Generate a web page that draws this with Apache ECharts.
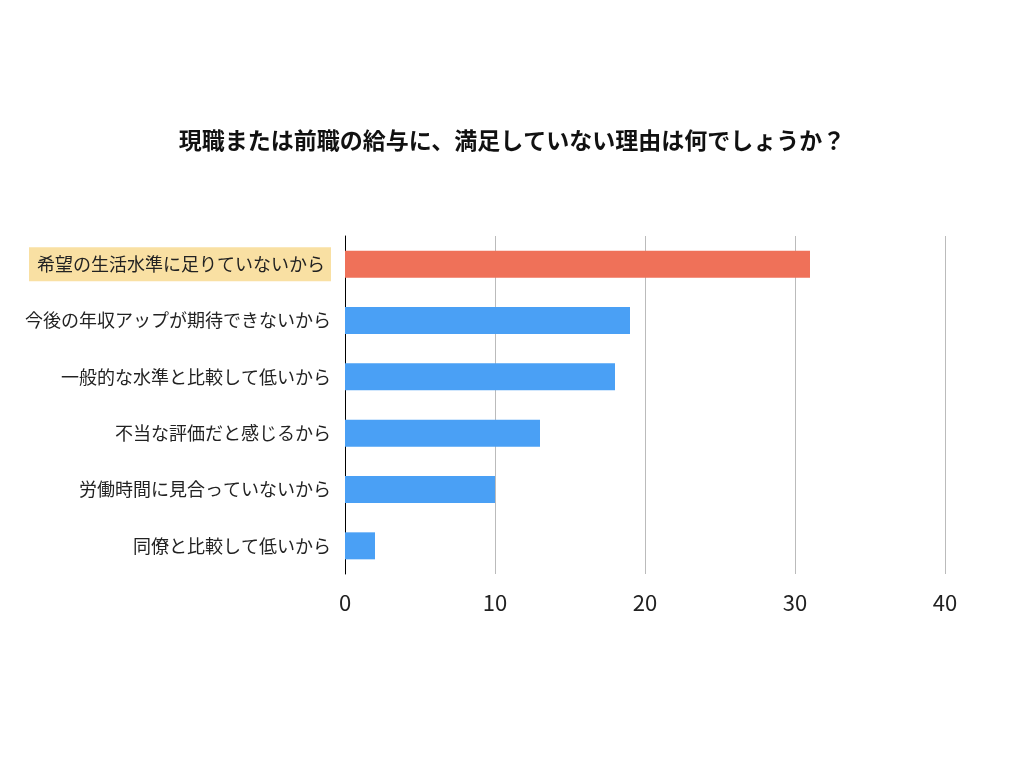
<!DOCTYPE html>
<html lang="ja" style="height: 100%">
<head>
  <meta charset="utf-8">
</head>
<body style="height: 100%; margin: 0; background-color:#ffffff;">
  <div id="container" style="width:1024px; height:768px"></div>

<script src="https://cdn.jsdelivr.net/npm/echarts@6/dist/echarts.min.js"></script>

<script>
  var categories = [
    '希望の生活水準に足りていないから',
    '今後の年収アップが期待できないから',
    '一般的な水準と比較して低いから',
    '不当な評価だと感じるから',
    '労働時間に見合っていないから',
    '同僚と比較して低いから'
  ];
  var values = [31, 19, 18, 13, 10, 2];
  var xTicks = [0, 10, 20, 30, 40];

  var myChart = echarts.init(document.getElementById('container'));
  var font = '"Noto Sans CJK JP", sans-serif';

  var option = {
    animation: false,
    title: {
      text: '現職または前職の給与に、満足していない理由は何でしょうか？',
      left: 'center',
      top: 124,
      textStyle: { fontSize: 23, fontWeight: 'bold', color: '#111', fontFamily: font }
    },
    grid: { left: 345, right: 79, top: 236, bottom: 194 },
    xAxis: {
      type: 'value',
      min: xTicks[0],
      max: xTicks[xTicks.length - 1],
      interval: 10,
      axisLine: { show: false },
      axisTick: { show: false },
      axisLabel: { fontSize: 22, color: '#222', margin: 18, fontFamily: font },
      splitLine: { lineStyle: { color: '#bbbbbb' } }
    },
    yAxis: {
      type: 'category',
      inverse: true,
      data: categories,
      axisLine: { lineStyle: { color: '#000' } },
      axisTick: { show: false },
      axisLabel: {
        fontSize: 18,
        color: '#222',
        margin: 14,
        fontFamily: font,
        formatter: function (v, i) { return i === 0 ? '{hl|' + v + '}' : v; },
        rich: {
          hl: { backgroundColor: '#f9e0a3', padding: [8, 6, 8, 8], fontSize: 18, color: '#222', fontFamily: font }
        }
      }
    },
    series: [{
      type: 'bar',
      barWidth: 27,
      data: values.map(function (v, i) {
        return { value: v, itemStyle: { color: i === 0 ? '#ef7159' : '#4aa0f5' } };
      })
    }]
  };

  myChart.setOption(option);
</script>

</body>
</html>
